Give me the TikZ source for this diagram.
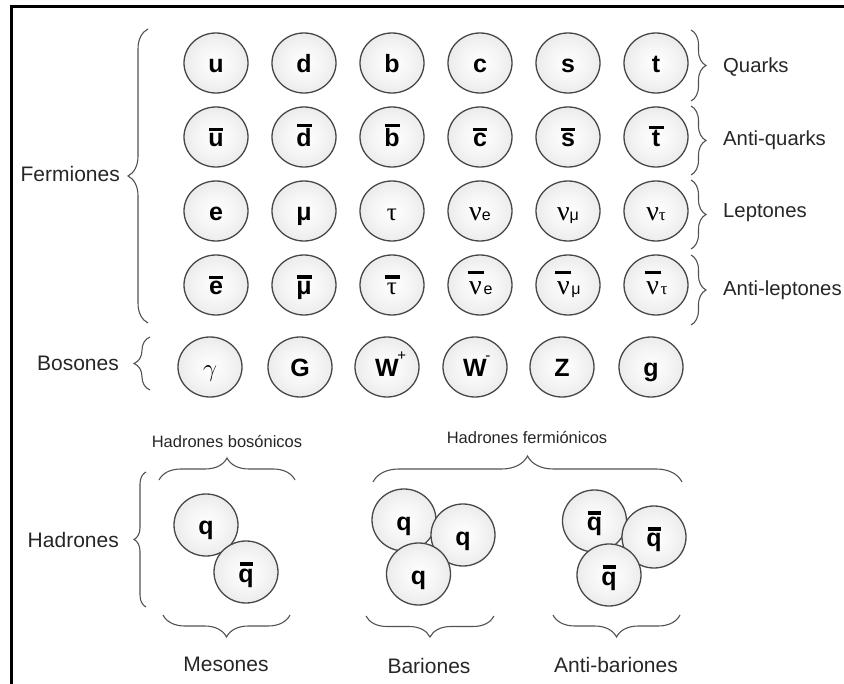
\documentclass[tikz,border=0pt]{standalone}
\usepackage{fontspec}
\setmainfont{Liberation Sans}
\newfontfamily\grk{Liberation Serif}
\usetikzlibrary{shapes.geometric,decorations.pathreplacing}
\pgfdeclareradialshading{ballshade}{\pgfpoint{0bp}{0bp}}{color(0bp)=(white); color(15bp)=(black!4); color(50bp)=(black!17); color(80bp)=(black!17)}
\newcommand\ovl[3][14pt]{\vbox{\offinterlineskip\halign{\hfil##\hfil\cr\rule{#1}{3.5pt}\cr\noalign{\kern#2}#3\cr}}}
\newcommand\gnu{{\grk\mdseries\fontsize{28}{28}\selectfont ν}}
\newcommand\subs[1]{{\mdseries\fontsize{16}{16}\selectfont #1}}
\newcommand\subg[1]{{\grk\mdseries\fontsize{17}{17}\selectfont #1}}
\newcommand\gtau{{\grk\mdseries\fontsize{25}{25}\selectfont τ}}
\newcommand\supsm[1]{\rlap{\kern-1.5pt\raisebox{16pt}{\mdseries\fontsize{15}{15}\selectfont #1}}}
\tikzset{
  part/.style={ellipse, draw=black!72, line width=1.3pt, shading=ballshade,
    minimum width=64pt, minimum height=60pt, inner sep=0pt,
    text height=20pt, text depth=0pt,
    font=\fontsize{25}{25}\selectfont\bfseries},
  had/.style={part, minimum height=62pt},
  lbl/.style={font=\fontsize{21}{24}\selectfont, text=black!85, inner sep=0pt},
  rlbl/.style={font=\fontsize{20.3}{24}\selectfont, text=black!85, inner sep=0pt, anchor=west},
  slbl/.style={font=\fontsize{16.5}{18}\selectfont, text=black!85, inner sep=0pt},
  brc/.style={draw=black!68, line width=1.1pt, decorate, decoration={brace, amplitude=#1}},
}
\begin{document}
\begin{tikzpicture}[x=1pt,y=1pt]
\useasboundingbox (0,0) rectangle (844,-684);
\coordinate (frA) at (11.5,-684);
\coordinate (frB) at (11.5,-6.5);
\coordinate (frC) at (844,-6.5);
\draw[line width=3pt] (frA) -- (frB) -- (frC);

% Quarks
\node[part] (pu) at (216,-63) {u};
\node[part] (pd) at (304,-63) {d};
\node[part] (pb) at (392,-63) {b};
\node[part] (pc) at (480,-63) {c};
\node[part] (ps) at (568,-63) {s};
\node[part] (pt) at (656,-63) {t};
% Anti-quarks
\node[part] (au) at (216,-137) {\ovl{2.5pt}{u}};
\node[part] (ad) at (304,-137) {\ovl[15pt]{1.5pt}{d}};
\node[part] (ab) at (392,-137) {\ovl[15pt]{1.5pt}{b}};
\node[part] (ac) at (480,-137) {\ovl{2.5pt}{c}};
\node[part] (as) at (568,-137) {\ovl{2.5pt}{s}};
\node[part] (at) at (656,-137) {\ovl[15pt]{1.5pt}{t}};
% Leptones
\node[part] (le) at (216,-211) {e};
\node[part] (lmu) at (304,-211) {μ};
\node[part] (ltau) at (392,-211) {\gtau};
\node[part] (lne) at (480,-211) {\gnu\subs{e}};
\node[part] (lnm) at (568,-211) {\gnu\subs{μ}};
\node[part] (lnt) at (656,-211) {\gnu\subg{τ}};
% Anti-leptones
\node[part] (ae) at (216,-285) {\ovl{2.5pt}{e}};
\node[part] (amu) at (304,-285) {\ovl[15pt]{3pt}{μ}};
\node[part] (atau) at (392,-285) {\ovl[15pt]{5pt}{\gtau}};
\node[part] (ane) at (480,-285) {\ovl[16pt]{8pt}{\gnu}\subs{e}};
\node[part] (anm) at (568,-285) {\ovl[16pt]{8pt}{\gnu}\subs{μ}};
\node[part] (ant) at (656,-285) {\ovl[16pt]{8pt}{\gnu}\subg{τ}};
% Bosones
\node[part] (bg) at (210,-367) {{\fontsize{30}{30}\selectfont$\gamma$}};
\node[part] (bG) at (300,-367) {G};
\node[part] (bWp) at (387,-367) {W\supsm{+}};
\node[part] (bWm) at (475,-367) {W\supsm{-}};
\node[part] (bZ) at (562,-367) {Z};
\node[part] (bgl) at (651,-367) {g};
% Mesones
\node[had] (m1) at (206,-525) {q};
\node[had] (m2) at (246,-572) {\ovl[13pt]{3pt}{q}};
% Bariones
\node[had] (b1) at (404,-520) {q};
\node[had] (b2) at (463,-535) {q};
\node[had] (b3) at (418.5,-574) {q};
% Anti-bariones
\node[had] (ab1) at (594.5,-521) {\ovl[13pt]{3pt}{q}};
\node[had] (ab2) at (654,-537) {\ovl[13pt]{3pt}{q}};
\node[had] (ab3) at (609,-575) {\ovl[13pt]{3pt}{q}};

% Left braces and labels
\coordinate (fb1) at (148,-323); \coordinate (fb2) at (148,-29);
\draw[brc=20] (fb1) -- (fb2);
\node[lbl, anchor=east] (lfer) at (120,-174) {Fermiones};
\coordinate (bb1) at (150,-390); \coordinate (bb2) at (150,-337);
\draw[brc=16] (bb1) -- (bb2);
\node[lbl, anchor=east] (lbos) at (119,-363) {Bosones};
\coordinate (hb1) at (146,-607); \coordinate (hb2) at (146,-472);
\draw[brc=12] (hb1) -- (hb2);
\node[lbl, anchor=east] (lhad) at (119,-540) {Hadrones};

% Right braces and labels
\coordinate (qb1) at (691,-30); \coordinate (qb2) at (691,-101);
\draw[brc=15] (qb1) -- (qb2);
\node[rlbl] (lq) at (723,-67) {Quarks};
\coordinate (aqb1) at (691,-106); \coordinate (aqb2) at (691,-175);
\draw[brc=15] (aqb1) -- (aqb2);
\node[rlbl] (laq) at (723,-140) {Anti-quarks};
\coordinate (lb1) at (691,-180); \coordinate (lb2) at (691,-249);
\draw[brc=15] (lb1) -- (lb2);
\node[rlbl] (llep) at (723,-213) {Leptones};
\coordinate (alb1) at (691,-255); \coordinate (alb2) at (691,-325);
\draw[brc=15] (alb1) -- (alb2);
\node[rlbl] (lalep) at (723,-290) {Anti-leptones};

% Hadron braces
\coordinate (hbo1) at (159,-480); \coordinate (hbo2) at (295,-480);
\draw[brc=22] (hbo1) -- (hbo2);
\node[slbl] (lhbo) at (227,-442) {Hadrones bosónicos};
\coordinate (hfe1) at (373,-482); \coordinate (hfe2) at (682,-482);
\draw[brc=26] (hfe1) -- (hfe2);
\node[slbl] (lhfe) at (527,-438) {Hadrones fermiónicos};

\coordinate (me1) at (290,-615); \coordinate (me2) at (163,-615);
\draw[brc=22] (me1) -- (me2);
\node[lbl] (lmes) at (226,-664) {Mesones};
\coordinate (ba1) at (494,-616); \coordinate (ba2) at (366,-616);
\draw[brc=21] (ba1) -- (ba2);
\node[lbl] (lbar) at (429,-666) {Bariones};
\coordinate (an1) at (680,-615); \coordinate (an2) at (553,-615);
\draw[brc=22] (an1) -- (an2);
\node[lbl] (lanb) at (616,-665) {Anti-bariones};
\end{tikzpicture}
\end{document}
